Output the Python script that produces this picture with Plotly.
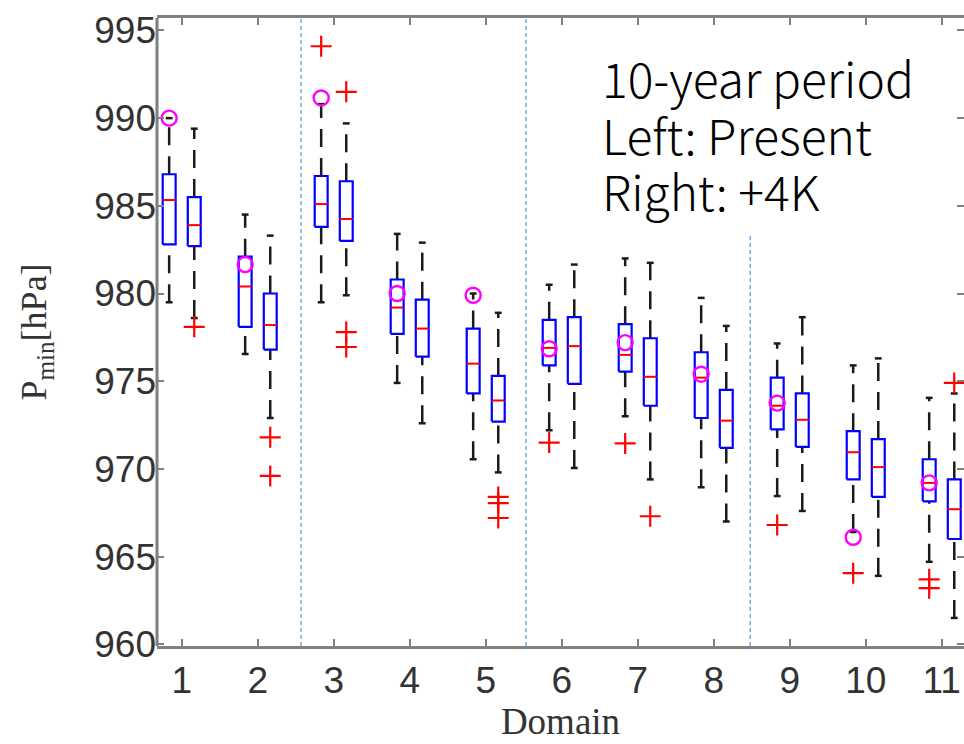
import plotly.graph_objects as go

# ---------------- data ----------------
domains = list(range(1, 12))
tick_labels = [str(d) for d in domains]
y_ticks = [960, 965, 970, 975, 980, 985, 990, 995]

# Present climate (left box of each pair)
present_upper = [990.0, 984.5, 990.8, 983.4, 980.0, 980.5, 982.0, 979.75, 977.15, 975.9, 974.05]
present_q3 = [986.8, 982.1, 986.7, 980.8, 978.0, 978.5, 978.25, 976.65, 975.2, 972.15, 970.55]
present_median = [985.33, 980.4, 985.1, 979.2, 976.0, 976.9, 976.5, 975.2, 973.6, 970.95, 969.2]
present_q1 = [982.8, 978.1, 983.8, 977.7, 974.3, 975.9, 975.55, 972.9, 972.25, 969.4, 968.15]
present_lower = [979.5, 976.55, 979.5, 974.9, 970.55, 972.2, 973.0, 968.95, 968.45, 966.4, 964.7]
present_outliers = [[], [], [994.1], [], [], [971.5], [971.45], [], [966.8], [964.05], [963.7, 963.2]]
present_marker = [990.0, 981.65, 991.15, 980.0, 979.9, 976.85, 977.2, 975.4, 973.75, 966.1, 969.2]

# +4K climate (right box of each pair)
future_upper = [989.4, 983.3, 989.7, 982.9, 978.9, 981.65, 981.75, 978.15, 978.65, 976.3, 974.3]
future_q3 = [985.5, 980.0, 986.4, 979.65, 975.3, 978.65, 977.45, 974.5, 974.3, 971.7, 969.4]
future_median = [983.9, 978.2, 984.25, 978.0, 973.9, 977.0, 975.25, 972.75, 972.8, 970.1, 967.7]
future_q1 = [982.7, 976.8, 983.0, 976.4, 972.7, 974.85, 973.6, 971.2, 971.25, 968.4, 966.0]
future_lower = [978.6, 972.9, 979.9, 972.6, 969.8, 970.05, 969.4, 967.0, 967.6, 963.9, 961.5]
future_outliers = [[978.1], [971.8, 969.6], [991.5, 977.8, 976.95], [], [968.4, 968.05, 967.2],
                   [], [967.3], [], [], [], [974.9]]

# region dividers (x position in domain units, top value; None = full height)
divider_x = [2.57, 5.53, 8.48]
divider_top = [None, None, 983.3]

note_lines = ["10-year period", "Left: Present", "Right: +4K"]

# ---------------- styles ----------------
OFFSET = 0.165
HALF_W = 0.085
CAP_HALF = 0.045
X_RANGE = [0.675, 11.293]
Y_RANGE = [959.9, 995.71]
W, H = 964, 744
ML, MR, MT, MB = 157, 0, 18, 98
AXIS_GRAY = "#7f7f7f"
TICK_FONT = dict(family="Liberation Sans, Arial, sans-serif", size=37, color="#333333")

fig = go.Figure()


def add_group(shift, upper, q3, med, q1, lower, outliers):
    cx = [d + shift for d in domains]
    # whiskers (dashed), drawn from the lower end upwards
    wx, wy = [], []
    for c, u, a, b, lo in zip(cx, upper, q3, q1, lower):
        wx += [c, c, None, c, c, None]
        wy += [a, u, None, lo, b, None]
    fig.add_trace(go.Scatter(x=wx, y=wy, mode="lines",
                             line=dict(color="#1a1a1a", width=2.5, dash="18px,11px"),
                             hoverinfo="skip", showlegend=False))
    # caps
    kx, ky = [], []
    for c, u, lo in zip(cx, upper, lower):
        kx += [c - CAP_HALF, c + CAP_HALF, None, c - CAP_HALF, c + CAP_HALF, None]
        ky += [u, u, None, lo, lo, None]
    fig.add_trace(go.Scatter(x=kx, y=ky, mode="lines",
                             line=dict(color="#1a1a1a", width=2.5),
                             hoverinfo="skip", showlegend=False))
    # boxes
    bx, by = [], []
    for c, a, b in zip(cx, q3, q1):
        bx += [c - HALF_W, c + HALF_W, c + HALF_W, c - HALF_W, c - HALF_W, None]
        by += [b, b, a, a, b, None]
    fig.add_trace(go.Scatter(x=bx, y=by, mode="lines",
                             line=dict(color="#0000ff", width=2.2),
                             hoverinfo="skip", showlegend=False))
    # medians
    mx, my = [], []
    for c, m in zip(cx, med):
        mx += [c - HALF_W, c + HALF_W, None]
        my += [m, m, None]
    fig.add_trace(go.Scatter(x=mx, y=my, mode="lines",
                             line=dict(color="#ff0000", width=2),
                             hoverinfo="skip", showlegend=False))
    # outliers
    ox, oy = [], []
    for c, outs in zip(cx, outliers):
        for v in outs:
            ox.append(c)
            oy.append(v)
    fig.add_trace(go.Scatter(x=ox, y=oy, mode="markers",
                             marker=dict(symbol="cross-thin", size=15, color="#ff0000",
                                         line=dict(color="#ff0000", width=2.2)),
                             hoverinfo="skip", showlegend=False))


add_group(-OFFSET, present_upper, present_q3, present_median, present_q1, present_lower, present_outliers)
add_group(+OFFSET, future_upper, future_q3, future_median, future_q1, future_lower, future_outliers)

# present-period markers (magenta circles)
fig.add_trace(go.Scatter(x=[d - OFFSET for d in domains], y=present_marker, mode="markers",
                         marker=dict(symbol="circle-open", size=15, color="#ff00ff",
                                     line=dict(color="#ff00ff", width=2.4)),
                         hoverinfo="skip", showlegend=False))

# dividers
for xv, top in zip(divider_x, divider_top):
    if top is None:
        fig.add_shape(type="line", xref="x", yref="y domain", x0=xv, x1=xv, y0=0, y1=1,
                      line=dict(color="#4a9be0", width=1.2, dash="4px,3px"), layer="below")
    else:
        fig.add_shape(type="line", xref="x", yref="y", x0=xv, x1=xv, y0=Y_RANGE[0], y1=top,
                      line=dict(color="#4a9be0", width=1.2, dash="4px,3px"), layer="below")

# left axis line (right edge of box lies just outside the picture)
fig.add_shape(type="line", xref="paper", yref="paper", x0=0, x1=0, y0=0, y1=1,
              line=dict(color=AXIS_GRAY, width=3))

# note text
plot_w = W - ML - MR
plot_h = H - MT - MB
note_mid_px = [77, 134, 190.5]
for txt, ypx in zip(note_lines, note_mid_px):
    fig.add_annotation(text=txt, xref="paper", yref="paper",
                       x=(600 - ML) / plot_w, y=(H - MB - ypx) / plot_h,
                       xanchor="left", yanchor="middle", showarrow=False,
                       font=dict(family="Noto Sans CJK JP", size=48, color="#000000",
                                 weight=300))

fig.update_layout(
    width=W, height=H,
    margin=dict(l=ML, r=MR, t=MT, b=MB, autoexpand=False),
    plot_bgcolor="white", paper_bgcolor="white",
    showlegend=False,
    xaxis=dict(range=X_RANGE, tickmode="array", tickvals=domains, ticktext=tick_labels,
               ticks="inside", ticklen=7, tickwidth=2, tickcolor=AXIS_GRAY,
               showline=True, linecolor=AXIS_GRAY, linewidth=3, mirror="ticks",
               showgrid=False, zeroline=False, tickfont=TICK_FONT, automargin=False,
               title=dict(text="Domain", standoff=8,
                          font=dict(family="Liberation Serif, Times New Roman, serif",
                                    size=37, color="#333333"))),
    yaxis=dict(range=Y_RANGE, tickmode="array", tickvals=y_ticks,
               ticks="inside", ticklen=7, tickwidth=2, tickcolor=AXIS_GRAY,
               showline=False, mirror="ticks",
               showgrid=False, zeroline=False, tickfont=TICK_FONT, automargin=False,
               title=dict(text="P<sub>min</sub>[hPa]", standoff=36,
                          font=dict(family="Liberation Serif, Times New Roman, serif",
                                    size=36, color="#333333"))),
)

fig.write_html("out.html", config={"displayModeBar": False},
               post_script="document.body.style.margin='0';document.body.style.overflow='hidden';")
